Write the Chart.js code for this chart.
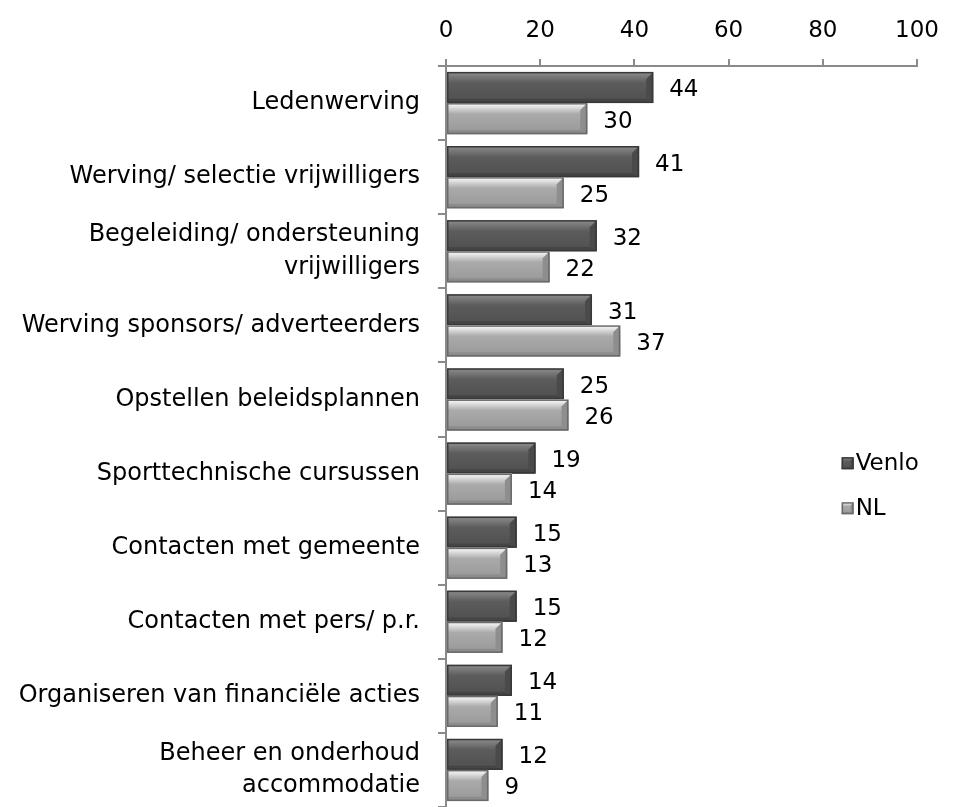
<!DOCTYPE html>
<html>
<head>
<meta charset="utf-8">
<script src="https://cdn.jsdelivr.net/npm/chart.js@4"></script>
<style>
  html, body { margin: 0; padding: 0; background: #fff; }
  #wrap { width: 957px; height: 807px; position: relative; }
</style>
</head>
<body>
<div id="wrap"><canvas id="chart"></canvas></div>
<script>
const categories = [
    ['Ledenwerving'],
    ['Werving/ selectie vrijwilligers'],
    ['Begeleiding/ ondersteuning', 'vrijwilligers'],
    ['Werving sponsors/ adverteerders'],
    ['Opstellen beleidsplannen'],
    ['Sporttechnische cursussen'],
    ['Contacten met gemeente'],
    ['Contacten met pers/ p.r.'],
    ['Organiseren van financiële acties'],
    ['Beheer en onderhoud', 'accommodatie']
];
const venloValues = [44, 41, 32, 31, 25, 19, 15, 15, 14, 12];
const nlValues = [30, 25, 22, 37, 26, 14, 13, 12, 11, 9];
const xTicks = [0, 20, 40, 60, 80, 100];

const FONT = '"DejaVu Sans", Verdana, sans-serif';
const axisColor = '#8a8a8a';

// bevel look per series
const styles = {
    Venlo: { grad: ['#8e8e8e', '#5c5c5c', '#4f4f4f'], bottom: '#454545', right: '#4a4a4a', border: '#383838' },
    NL: { grad: ['#ffffff', '#aaaaaa', '#989898'], bottom: '#8c8c8c', right: '#8e8e8e', border: '#6a6a6a' }
};

function drawBevelRect(ctx, l, t, r, b, st, bev) {
    ctx.save();
    const g = ctx.createLinearGradient(0, t, 0, b);
    g.addColorStop(0, st.grad[0]);
    g.addColorStop(0.35, st.grad[1]);
    g.addColorStop(1, st.grad[2]);
    ctx.fillStyle = g;
    ctx.fillRect(l, t, r - l, b - t);
    ctx.fillStyle = st.bottom;
    ctx.beginPath();
    ctx.moveTo(l, b); ctx.lineTo(r, b); ctx.lineTo(r - bev, b - bev * 0.6); ctx.lineTo(l, b - bev * 0.6);
    ctx.closePath(); ctx.fill();
    ctx.fillStyle = st.right;
    ctx.beginPath();
    ctx.moveTo(r, t); ctx.lineTo(r, b); ctx.lineTo(r - bev, b - bev * 0.6); ctx.lineTo(r - bev, t + bev);
    ctx.closePath(); ctx.fill();
    ctx.strokeStyle = st.border;
    ctx.lineWidth = 1.5;
    ctx.strokeRect(l + 0.75, t + 0.75, r - l - 1.5, b - t - 1.5);
    ctx.restore();
}

const bevelBars = {
    id: 'bevelBars',
    afterDatasetsDraw(chart) {
        const ctx = chart.ctx;
        chart.data.datasets.forEach((ds, i) => {
            const meta = chart.getDatasetMeta(i);
            const st = styles[ds.label];
            meta.data.forEach((bar, j) => {
                const p = bar.getProps(['x', 'y', 'base', 'height'], true);
                const l = Math.min(p.base, p.x), r = Math.max(p.base, p.x);
                const t = p.y - p.height / 2, b = p.y + p.height / 2;
                drawBevelRect(ctx, l, t, r, b, st, 7);
                ctx.save();
                ctx.fillStyle = '#000';
                ctx.font = '23px ' + FONT;
                ctx.textAlign = 'left';
                ctx.textBaseline = 'middle';
                ctx.fillText(String(ds.data[j]), r + 16, p.y + 3);
                ctx.restore();
            });
        });
    },
    afterDraw(chart) {
        // legend on the right
        const ctx = chart.ctx;
        const area = chart.chartArea;
        const x = area.left + (area.right - area.left) * 0.84;
        const y0 = area.top + (area.bottom - area.top) * 0.536;
        chart.data.datasets.forEach((ds, i) => {
            const y = y0 + i * 45;
            drawBevelRect(ctx, x, y - 6, x + 12, y + 6, styles[ds.label], 3);
            ctx.save();
            ctx.fillStyle = '#000';
            ctx.font = '23px ' + FONT;
            ctx.textAlign = 'left';
            ctx.textBaseline = 'middle';
            ctx.fillText(ds.label, x + 14, y + 1);
            ctx.restore();
        });
    }
};

new Chart(document.getElementById('chart'), {
    type: 'bar',
    data: {
        labels: categories,
        datasets: [
            { label: 'Venlo', data: venloValues, backgroundColor: 'rgba(0,0,0,0)', borderWidth: 0 },
            { label: 'NL', data: nlValues, backgroundColor: 'rgba(0,0,0,0)', borderWidth: 0 }
        ]
    },
    options: {
        indexAxis: 'y',
        responsive: true,
        maintainAspectRatio: false,
        animation: false,
        layout: { padding: { left: 0, right: 40, top: 0, bottom: 0 } },
        datasets: { bar: { categoryPercentage: 0.84, barPercentage: 1.0 } },
        plugins: {
            legend: { display: false },
            tooltip: { enabled: false }
        },
        scales: {
            x: {
                position: 'top',
                min: 0,
                max: 100,
                afterBuildTicks: (s) => { s.ticks = xTicks.map(v => ({ value: v })); },
                ticks: { color: '#000', font: { family: FONT, size: 23 }, padding: 14, maxRotation: 0 },
                grid: { drawOnChartArea: false, color: axisColor, tickLength: 7, lineWidth: 2 },
                border: { display: true, color: axisColor, width: 2 },
                afterFit: (s) => { s.height = 66; }
            },
            y: {
                ticks: { color: '#000', font: { family: FONT, size: 24, lineHeight: 1.35 }, padding: 18, autoSkip: false },
                grid: { drawOnChartArea: false, color: axisColor, tickLength: 8, lineWidth: 2, offset: true },
                border: { display: true, color: axisColor, width: 2 },
                afterFit: (s) => { s.width = 446; s.paddingTop = 0; s.paddingBottom = 0; }
            }
        }
    },
    plugins: [bevelBars]
});
</script>
</body>
</html>
